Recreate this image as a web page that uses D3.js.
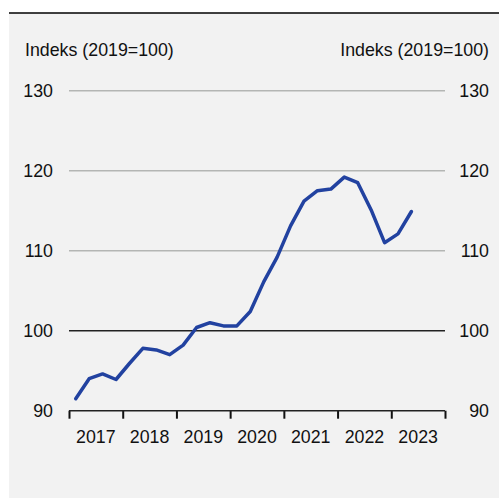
<!DOCTYPE html>
<html lang="en">
    <head>
        <title>Indeks</title>
        <meta charset="UTF-8">
        <style>
            body { margin: 0; background: #fff; }
            text { font-family: Arial, "Liberation Sans", sans-serif; fill: #111; }
        </style>
        <script src="https://d3js.org/d3.v7.min.js"></script>
    </head>
    <body>
        <script>
            // data: quarterly, 2017Q1 .. 2023Q2
            const years = [2017, 2018, 2019, 2020, 2021, 2022, 2023]
            const quarters = ["2017Q1","2017Q2","2017Q3","2017Q4",
                              "2018Q1","2018Q2","2018Q3","2018Q4",
                              "2019Q1","2019Q2","2019Q3","2019Q4",
                              "2020Q1","2020Q2","2020Q3","2020Q4",
                              "2021Q1","2021Q2","2021Q3","2021Q4",
                              "2022Q1","2022Q2","2022Q3","2022Q4",
                              "2023Q1","2023Q2"]
            const values = [91.5, 94.0, 94.6, 93.9,
                            95.9, 97.8, 97.6, 97.0,
                            98.2, 100.4, 101.0, 100.6,
                            100.6, 102.4, 106.1, 109.2,
                            113.1, 116.2, 117.5, 117.7,
                            119.2, 118.5, 115.1, 111.0,
                            112.1, 114.9]
            const yTicks = [90, 100, 110, 120, 130]
            const unitLabel = "Indeks (2019=100)"

            const width = 499
            const height = 499
            const plotLeft = 69, plotRight = 445, plotTop = 90.7, plotBottom = 410.7
            const fs = "17.8px"

            const svg = d3.select("body")
                .append("svg")
                .attr("width", width)
                .attr("height", height)

            // panel background + top rule
            svg.append("rect")
                .attr("x", 9).attr("y", 13)
                .attr("width", width - 9).attr("height", height - 14)
                .attr("fill", "#f2f2f2")
            svg.append("line")
                .attr("x1", 9).attr("x2", width)
                .attr("y1", 13).attr("y2", 13)
                .attr("stroke", "#000").attr("stroke-width", 1.5)

            // quarter -> decimal year at middle of the quarter
            const qPos = q => +q.slice(0, 4) + (+q.slice(5) - 0.5) / 4

            const x = d3.scaleLinear()
                .domain([years[0], years[years.length - 1] + 1])
                .range([plotLeft, plotRight])
            const y = d3.scaleLinear()
                .domain([90, 130])
                .range([plotBottom, plotTop])

            // gridlines
            svg.append("g")
                .selectAll("line")
                .data(yTicks.filter(d => d > 90))
                .enter()
                .append("line")
                .attr("x1", plotLeft).attr("x2", plotRight)
                .attr("y1", d => y(d)).attr("y2", d => y(d))
                .attr("stroke", d => d === 100 ? "#222" : "#b4b6b4")
                .attr("stroke-width", 1.5)

            // y labels both sides
            svg.append("g")
                .selectAll("text")
                .data(yTicks)
                .enter()
                .append("text")
                .attr("x", 53)
                .attr("y", d => y(d))
                .attr("dy", "0.35em")
                .attr("text-anchor", "end")
                .style("font-size", fs)
                .text(d => d)
            svg.append("g")
                .selectAll("text")
                .data(yTicks)
                .enter()
                .append("text")
                .attr("x", 489)
                .attr("y", d => y(d))
                .attr("dy", "0.35em")
                .attr("text-anchor", "end")
                .style("font-size", fs)
                .text(d => d)

            svg.append("text")
                .attr("x", 25).attr("y", 50)
                .attr("dy", "0.35em")
                .style("font-size", fs)
                .text(unitLabel)
            svg.append("text")
                .attr("x", 489).attr("y", 50)
                .attr("dy", "0.35em")
                .attr("text-anchor", "end")
                .style("font-size", fs)
                .text(unitLabel)

            // x axis: ticks at year boundaries, labels centred in each year
            const gx = svg.append("g")
                .attr("transform", `translate(0, ${plotBottom})`)
                .call(d3.axisBottom(x)
                    .tickValues(years.concat([years[years.length - 1] + 1]))
                    .tickSize(8)
                    .tickFormat(""))
            gx.select(".domain").remove()
            gx.selectAll(".tick line")
                .attr("stroke", "#111").attr("stroke-width", 2)
            gx.append("line")
                .attr("x1", plotLeft).attr("x2", plotRight)
                .attr("stroke", "#222").attr("stroke-width", 1.5)
            gx.selectAll(".yr")
                .data(years)
                .enter()
                .append("text")
                .attr("class", "yr")
                .attr("x", d => x(d + 0.5))
                .attr("y", 26)
                .attr("dy", "0.35em")
                .attr("text-anchor", "middle")
                .style("font-size", fs)
                .text(d => d)

            // line
            const line = d3.line()
                .x((d, i) => x(qPos(quarters[i])))
                .y(d => y(d))
            svg.append("path")
                .datum(values)
                .attr("d", line)
                .attr("fill", "none")
                .attr("stroke", "#2242a0")
                .attr("stroke-width", 3.5)
                .attr("stroke-linejoin", "round")
                .attr("stroke-linecap", "round")
        </script>
    </body>
</html>
